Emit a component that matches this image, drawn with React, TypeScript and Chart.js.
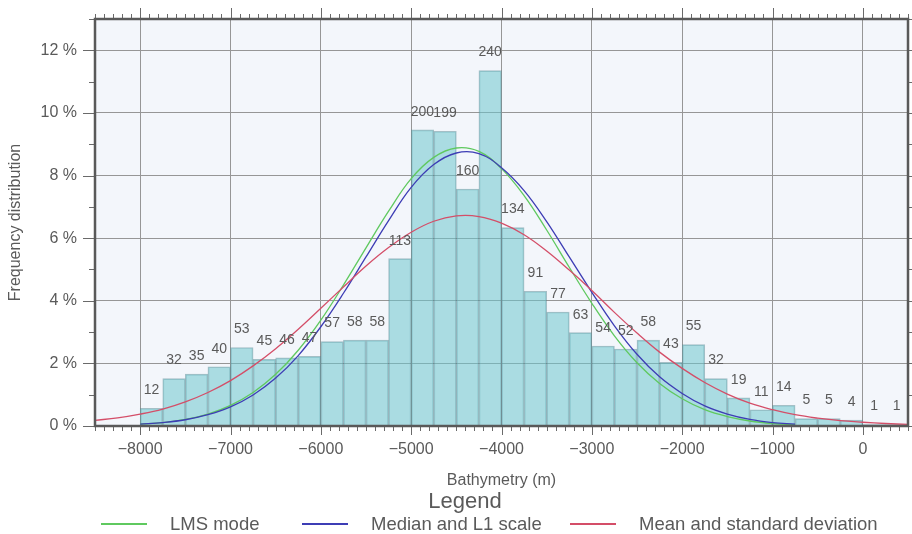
import React, { useEffect, useRef } from 'react';
import { Chart, registerables } from 'chart.js';

Chart.register(...registerables);

// ---- data ----
const BIN_CENTERS = [
  -7875, -7625, -7375, -7125, -6875, -6625, -6375, -6125, -5875, -5625, -5375, -5125,
  -4875, -4625, -4375, -4125, -3875, -3625, -3375, -3125, -2875, -2625, -2375, -2125,
  -1875, -1625, -1375, -1125, -875, -625, -375, -125, 125, 375,
];
const COUNTS = [
  12, 32, 35, 40, 53, 45, 46, 47, 57, 58, 58, 113,
  200, 199, 160, 240, 134, 91, 77, 63, 54, 52, 58, 43,
  55, 32, 19, 11, 14, 5, 5, 4, 1, 1,
];
const X_TICKS = [-8000, -7000, -6000, -5000, -4000, -3000, -2000, -1000, 0];
const Y_TICKS = [0, 2, 4, 6, 8, 10, 12];
const CURVE_X = [
  -8500, -8250, -8000, -7750, -7500, -7250, -7000, -6750, -6500, -6250, -6000, -5750,
  -5500, -5250, -5000, -4750, -4500, -4250, -4000, -3750, -3500, -3250, -3000, -2750,
  -2500, -2250, -2000, -1750, -1500, -1250, -1000, -750, -500, -250, 0, 250, 500,
];
const LMS_MODE = [
  null, null, 0.06, 0.11, 0.21, 0.38, 0.66, 1.07, 1.65, 2.42, 3.38, 4.5,
  5.69, 6.86, 7.9, 8.58, 8.88, 8.77, 8.22, 7.36, 6.26, 5.07, 3.92, 2.88,
  2.02, 1.36, 0.87, 0.52, 0.3, 0.16, 0.08, 0.04, null, null, null, null, null,
];
const MEDIAN_L1 = [
  null, null, 0.06, 0.11, 0.2, 0.36, 0.61, 0.99, 1.53, 2.25, 3.17, 4.24,
  5.4, 6.56, 7.62, 8.35, 8.72, 8.7, 8.25, 7.52, 6.53, 5.4, 4.27, 3.2,
  2.29, 1.57, 1.04, 0.64, 0.38, 0.21, 0.11, 0.06, null, null, null, null, null,
];
const MEAN_SD = [
  0.18, 0.26, 0.38, 0.54, 0.77, 1.07, 1.45, 1.92, 2.47, 3.09, 3.76, 4.44,
  5.11, 5.7, 6.19, 6.54, 6.71, 6.69, 6.48, 6.11, 5.59, 4.98, 4.33, 3.63,
  2.97, 2.36, 1.84, 1.39, 1.02, 0.73, 0.52, 0.36, 0.25, 0.17, 0.12, 0.08, 0.05,
];
const SERIES_LABELS = ['LMS mode', 'Median and L1 scale', 'Mean and standard deviation'];
const SERIES_COLORS = ['#5fc95f', '#3d3db5', '#d44e68'];

const FONT = '"Liberation Sans", Arial, Helvetica, sans-serif';
const TEXT = '#5a5a5a';

const fmtX = (v: number) => (v < 0 ? '\u2212' + Math.abs(v) : String(v));

const bgPlugin = {
  id: 'plotBg',
  beforeDraw(chart: any) {
    const { ctx, chartArea: a } = chart;
    ctx.save();
    ctx.fillStyle = '#f3f6fb';
    ctx.fillRect(a.left, a.top, a.right - a.left, a.bottom - a.top);
    ctx.restore();
  },
};

const labelPlugin = {
  id: 'barLabels',
  afterDatasetsDraw(chart: any) {
    const { ctx } = chart;
    const meta = chart.getDatasetMeta(0);
    ctx.save();
    ctx.font = `14px ${FONT}`;
    ctx.fillStyle = TEXT;
    ctx.textAlign = 'center';
    ctx.textBaseline = 'middle';
    meta.data.forEach((el: any, i: number) => {
      ctx.fillText(String(COUNTS[i]), el.x, el.y - 18);
    });
    ctx.restore();
  },
};

const decorPlugin = {
  id: 'decor',
  afterDraw(chart: any) {
    const { ctx, chartArea: a } = chart;
    const xs = chart.scales.x;
    const ys = chart.scales.y;
    ctx.save();
    // tick marks
    ctx.strokeStyle = '#6a6a6a';
    ctx.lineWidth = 1;
    ctx.beginPath();
    for (let v = xs.min; v <= xs.max + 1e-6; v += 100) {
      const px = Math.round(xs.getPixelForValue(v)) + 0.5;
      const major = Math.abs(v % 1000) < 1e-6;
      ctx.moveTo(px, a.top - (major ? 11 : 5));
      ctx.lineTo(px, a.top);
      ctx.moveTo(px, a.bottom);
      ctx.lineTo(px, a.bottom + (major ? 9 : 5));
    }
    for (let v = ys.min; v <= ys.max + 1e-6; v += 1) {
      const py = Math.round(ys.getPixelForValue(v)) + 0.5;
      const major = v % 2 === 0;
      ctx.moveTo(a.left - (major ? 12 : 6), py);
      ctx.lineTo(a.left, py);
      ctx.moveTo(a.right, py);
      ctx.lineTo(a.right + 5, py);
    }
    ctx.stroke();
    // frame
    ctx.strokeStyle = '#595959';
    ctx.lineWidth = 2.5;
    ctx.strokeRect(a.left, a.top, a.right - a.left, a.bottom - a.top);

    // axis titles
    ctx.fillStyle = TEXT;
    ctx.textAlign = 'center';
    ctx.textBaseline = 'middle';
    ctx.font = `16px ${FONT}`;
    ctx.fillText('Bathymetry (m)', (a.left + a.right) / 2, 481);
    ctx.save();
    ctx.translate(16, (a.top + a.bottom) / 2);
    ctx.rotate(-Math.PI / 2);
    ctx.fillText('Frequency distribution', 0, 0);
    ctx.restore();

    // legend
    ctx.font = `22px ${FONT}`;
    ctx.fillText('Legend', 465, 502);
    ctx.font = `18.5px ${FONT}`;
    ctx.textAlign = 'left';
    const starts = [101, 302, 570];
    for (let i = 0; i < 3; i++) {
      const ds = chart.data.datasets[i + 1];
      ctx.strokeStyle = ds.borderColor;
      ctx.lineWidth = 2;
      ctx.beginPath();
      ctx.moveTo(starts[i], 524);
      ctx.lineTo(starts[i] + 46, 524);
      ctx.stroke();
      ctx.fillText(ds.label, starts[i] + 69, 525);
    }
    ctx.restore();
  },
};

export default function App() {
  const ref = useRef<HTMLCanvasElement | null>(null);
  useEffect(() => {
    if (!ref.current) return;
    Chart.defaults.font.family = FONT;
    const total = COUNTS.reduce((s, c) => s + c, 0);
    const curves = [LMS_MODE, MEDIAN_L1, MEAN_SD];
    const chart = new Chart(ref.current, {
      type: 'bar',
      data: {
        datasets: [
          {
            type: 'bar',
            label: 'Counts',
            data: BIN_CENTERS.map((c, i) => ({ x: c, y: (COUNTS[i] / total) * 100 })),
            backgroundColor: 'rgba(110,199,206,0.55)',
            borderColor: 'rgba(85,135,145,0.5)',
            borderWidth: 1,
            barPercentage: 1,
            categoryPercentage: 1,
            order: 5,
          } as any,
          ...curves.map((vals, k) => ({
            type: 'line',
            label: SERIES_LABELS[k],
            data: CURVE_X.map((x, i) => ({ x, y: vals[i] })),
            borderColor: SERIES_COLORS[k],
            backgroundColor: SERIES_COLORS[k],
            borderWidth: 1.3,
            pointRadius: 0,
            tension: 0.4,
            fill: false,
            order: 3 - k,
          })) as any,
        ],
      },
      options: {
        animation: false,
        responsive: true,
        maintainAspectRatio: false,
        layout: { padding: { left: 0, right: 4, top: 19, bottom: 0 } },
        plugins: { legend: { display: false }, tooltip: { enabled: false } },
        scales: {
          x: {
            type: 'linear',
            min: -8500,
            max: 500,
            offset: false,
            afterBuildTicks: (s: any) => {
              s.ticks = X_TICKS.map((v) => ({ value: v }));
            },
            afterFit: (s: any) => {
              s.height = 108;
              s.paddingLeft = 0;
              s.paddingRight = 0;
            },
            grid: { color: '#969696', lineWidth: 1, drawTicks: false, offset: false },
            border: { display: false },
            ticks: {
              padding: 14,
              color: TEXT,
              font: { size: 16 },
              maxRotation: 0,
              autoSkip: false,
              callback: (v: any) => fmtX(Number(v)),
            },
          },
          y: {
            type: 'linear',
            min: 0,
            max: 13,
            afterBuildTicks: (s: any) => {
              s.ticks = Y_TICKS.map((v) => ({ value: v }));
            },
            afterFit: (s: any) => {
              s.width = 95;
              s.paddingTop = 0;
              s.paddingBottom = 0;
            },
            grid: { color: '#969696', lineWidth: 1, drawTicks: false },
            border: { display: false },
            ticks: {
              padding: 18,
              color: TEXT,
              font: { size: 16 },
              callback: (v: any) => `${v} %`,
            },
          },
        },
      } as any,
      plugins: [bgPlugin, labelPlugin, decorPlugin],
    });
    return () => chart.destroy();
  }, []);
  return (
    <div style={{ position: 'fixed', left: 0, top: 0, width: 912, height: 534, background: '#fff' }}>
      <canvas ref={ref} />
    </div>
  );
}
